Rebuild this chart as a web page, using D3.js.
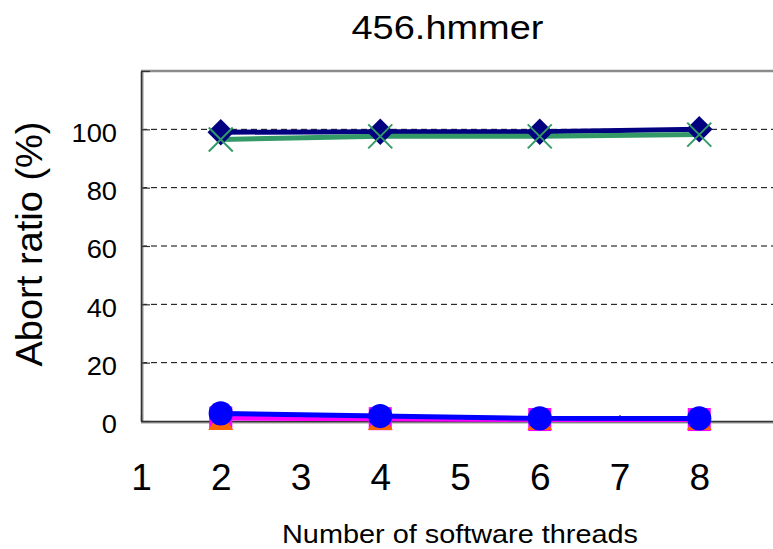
<!DOCTYPE html>
<html>
<head>
<meta charset="utf-8">
<script src="https://cdn.jsdelivr.net/npm/d3@7"></script>
<style>
  body { margin: 0; background: #fff; }
  text { font-family: 'Liberation Sans', Arial, sans-serif; fill: #000; }
</style>
</head>
<body>
<div id="chart"></div>
<script>
// Abort ratio chart

// Data
const threads = [2, 4, 6, 8]
const diamondValues = [99.0, 99.2, 99.2, 100.0]
const crossValues = [96.5, 97.6, 97.6, 98.2]
const circleValues = [2.6, 1.7, 0.9, 0.9]
const squareValues = [1.0, 0.8, 0.5, 0.5]
const triangleValues = [0, 0, 0, 0]
const xTicks = [1, 2, 3, 4, 5, 6, 7, 8]
const yTicks = [0, 20, 40, 60, 80, 100]
const gridValues = [20, 40, 60, 80, 100]

const width = 773
const height = 549
const fontFamily = "'Liberation Sans', Arial, sans-serif"

const svg = d3.select('#chart')
  .append('svg')
  .attr('width', width)
  .attr('height', height)

// Scales (plot runs off the right edge, as in the original)
const x = d3.scaleLinear().domain([1, 9]).range([141, 779])
const y = d3.scaleLinear().domain([0, 120]).range([421, 71])

// Gridlines
svg.append('g').selectAll('line')
  .data(gridValues)
  .enter().append('line')
  .attr('x1', x(1))
  .attr('x2', width)
  .attr('y1', d => y(d))
  .attr('y2', d => y(d))
  .attr('stroke', '#000')
  .attr('stroke-width', 1)
  .attr('stroke-dasharray', '6,4')

// Top border
svg.append('line')
  .attr('x1', x(1)).attr('x2', width)
  .attr('y1', y(120)).attr('y2', y(120))
  .attr('stroke', '#8c8c8c')
  .attr('stroke-width', 2.5)

// Axis shadows
svg.append('line')
  .attr('x1', x(1) + 1.8).attr('x2', x(1) + 1.8)
  .attr('y1', y(120)).attr('y2', y(0))
  .attr('stroke', '#9a9a9a').attr('stroke-width', 1.5)
svg.append('line')
  .attr('x1', x(1)).attr('x2', width)
  .attr('y1', y(0) + 1.8).attr('y2', y(0) + 1.8)
  .attr('stroke', '#9a9a9a').attr('stroke-width', 1.5)

// Y axis
const yAxis = svg.append('g')
  .attr('transform', `translate(${x(1)},0)`)
  .call(d3.axisLeft(y).tickValues([...yTicks, 120]).tickSize(-9).tickSizeOuter(0).tickPadding(24)
    .tickFormat(d => d === 120 ? '' : d))
yAxis.selectAll('text')
  .attr('font-size', 26)
  .attr('dy', '0.45em')
  .attr('textLength', d => String(d).length * 0.556 * 26 * 1.05)
  .attr('lengthAdjust', 'spacingAndGlyphs')
  .style('font-family', fontFamily)

// X axis
const xAxis = svg.append('g')
  .attr('transform', `translate(0,${y(0)})`)
  .call(d3.axisBottom(x).tickValues(xTicks).tickSize(-6).tickSizeOuter(0).tickPadding(43))
xAxis.selectAll('text')
  .attr('font-size', 37)
  .style('font-family', fontFamily)

svg.selectAll('.domain').attr('stroke', '#333').attr('stroke-width', 1.6)
svg.selectAll('.tick line').attr('stroke', '#333').attr('stroke-width', 1.2)

// Series, drawn bottom to top (the triangle series has markers only)
const series = [
  { values: squareValues, color: '#ff00ff', marker: 'square', line: true },
  { values: triangleValues, color: '#ff6600', marker: 'triangle', line: false },
  { values: circleValues, color: '#0000ff', marker: 'circle', line: true },
  { values: diamondValues, color: '#000080', marker: 'diamond', line: true },
  { values: crossValues, color: '#339966', marker: 'cross', line: true }
]

const line = d3.line()
  .x((d, i) => x(threads[i]))
  .y(d => y(d))

svg.append('g').selectAll('path')
  .data(series.filter(s => s.line))
  .enter().append('path')
  .attr('d', d => line(d.values))
  .attr('fill', 'none')
  .attr('stroke', d => d.color)
  .attr('stroke-width', 5)

const symbolPath = {
  triangle: 'M0,-10L12.5,9L-12.5,9Z',
  square: d3.symbol().type(d3.symbolSquare).size(530)(),
  circle: d3.symbol().type(d3.symbolCircle).size(460)(),
  diamond: d3.symbol().type(d3.symbolSquare).size(350)(),
  cross: 'M-12,-12L12,12M-12,12L12,-12'
}

series.forEach(s => {
  svg.append('g').selectAll('path')
    .data(s.values)
    .enter().append('path')
    .attr('d', symbolPath[s.marker])
    .attr('transform', (d, i) => `translate(${x(threads[i])},${y(d)})${s.marker === 'diamond' ? ' rotate(45)' : ''}`)
    .attr('fill', s.marker === 'cross' ? 'none' : s.color)
    .attr('stroke', s.marker === 'cross' ? s.color : 'none')
    .attr('stroke-width', 2)
})

// Title and axis titles
svg.append('text')
  .text('456.hmmer')
  .attr('x', 447.5)
  .attr('y', 39)
  .attr('text-anchor', 'middle')
  .attr('font-size', 33.5)
  .attr('textLength', 192)
  .attr('lengthAdjust', 'spacingAndGlyphs')

svg.append('text')
  .text('Number of software threads')
  .attr('x', 460)
  .attr('y', 543)
  .attr('text-anchor', 'middle')
  .attr('font-size', 25)
  .attr('textLength', 356)
  .attr('lengthAdjust', 'spacingAndGlyphs')

svg.append('text')
  .text('Abort ratio (%)')
  .attr('transform', 'translate(42,244) rotate(-90)')
  .attr('text-anchor', 'middle')
  .attr('font-size', 37)
  .attr('textLength', 245)
  .attr('lengthAdjust', 'spacingAndGlyphs')
</script>
</body>
</html>
